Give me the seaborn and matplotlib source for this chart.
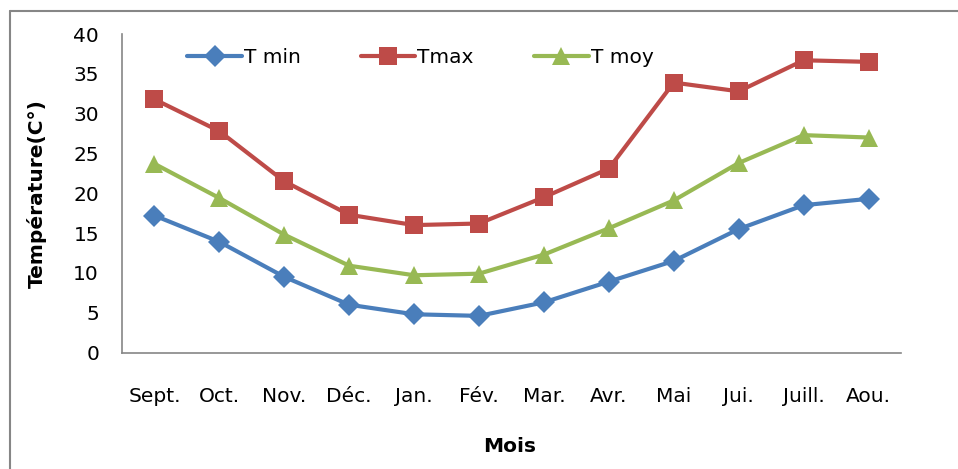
import matplotlib
matplotlib.use("Agg")
import matplotlib.pyplot as plt
from matplotlib.lines import Line2D
from matplotlib.ticker import FixedLocator
import seaborn as sns
import pandas as pd

months = ["Sept.", "Oct.", "Nov.", "Déc.", "Jan.", "Fév.",
          "Mar.", "Avr.", "Mai", "Jui.", "Juill.", "Aou."]
t_min = [17.2, 13.9, 9.5, 6.0, 4.8, 4.6, 6.3, 8.9, 11.5, 15.5, 18.5, 19.3]
t_max = [31.8, 27.8, 21.5, 17.3, 16.0, 16.2, 19.5, 23.1, 33.9, 32.8, 36.7, 36.5]
t_moy = [23.7, 19.4, 14.8, 10.9, 9.7, 9.9, 12.3, 15.6, 19.1, 23.8, 27.3, 27.0]

series = ["T min", "Tmax", "T moy"]
colors = {"T min": "#4A7EBB", "Tmax": "#BE4B48", "T moy": "#98B954"}
markers = {"T min": "D", "Tmax": "s", "T moy": "^"}
msizes = {"T min": 11, "Tmax": 13, "T moy": 13}

df = pd.DataFrame({
    "Mois": months * 3,
    "Température": t_min + t_max + t_moy,
    "Série": ["T min"] * 12 + ["Tmax"] * 12 + ["T moy"] * 12,
})

sns.set_style("white")
plt.rcParams["font.family"] = ["DejaVu Sans"]
plt.rcParams["text.color"] = "black"
plt.rcParams["axes.labelcolor"] = "black"
fs = 14.5

fig = plt.figure(figsize=(9.58, 4.69), dpi=100)
ax = fig.add_axes([0.1273, 0.2484, 0.8132, 0.6791])

for name in series:
    sub = df[df["Série"] == name]
    sns.lineplot(data=sub, x="Mois", y="Température", ax=ax, color=colors[name],
                 linewidth=3, marker=markers[name], markersize=msizes[name],
                 markeredgewidth=0, sort=False, label=name)

ax.set_xlim(-0.5, len(months) - 0.5)
ax.set_ylim(0, 40)
ax.set_yticks(range(0, 41, 5))
ax.set_xticks(range(len(months)))
ax.set_xticklabels(months)
ax.xaxis.set_minor_locator(FixedLocator([i - 0.5 for i in range(len(months) + 1)]))

grey = "#868686"
for side in ["top", "right"]:
    ax.spines[side].set_visible(False)
for side in ["left", "bottom"]:
    ax.spines[side].set_color(grey)
    ax.spines[side].set_linewidth(1.2)

ax.tick_params(axis="x", which="major", length=0, pad=25, labelsize=fs, labelcolor="black")
ax.tick_params(axis="x", which="minor", length=5.5, width=1.2, color=grey, direction="out")
ax.tick_params(axis="y", which="major", length=5.5, width=1.2, color=grey, direction="out",
               pad=11, labelsize=fs, labelcolor="black")

ax.set_xlabel("Mois", fontsize=fs, fontweight="bold", color="black")
ax.set_ylabel("Température(C°)", fontsize=fs, fontweight="bold", color="black")
ax.xaxis.set_label_coords(0.498, -0.265)
ax.yaxis.set_label_coords(-0.097, 0.5)

handles = [Line2D([], [], color=colors[n], linewidth=3, marker=markers[n],
                  markersize=msizes[n], markeredgewidth=0) for n in series]
leg = ax.legend(handles, series, loc="center", bbox_to_anchor=(0.383, 0.925), ncol=3,
                frameon=False, fontsize=fs, handlelength=2.7, handletextpad=0.1,
                columnspacing=3.0)
for t in leg.get_texts():
    t.set_color("black")

# outer chart frame
fig.add_artist(Line2D([10 / 958, 10 / 958], [0, 1 - 11 / 469], transform=fig.transFigure,
                      color=grey, linewidth=1.5))
fig.add_artist(Line2D([10 / 958, 1], [1 - 11 / 469, 1 - 11 / 469], transform=fig.transFigure,
                      color=grey, linewidth=1.5))

fig.savefig("out.png", dpi=100)
